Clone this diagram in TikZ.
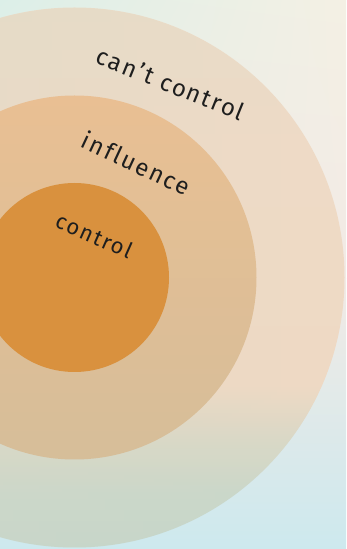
\documentclass[tikz,border=0pt]{standalone}
\usepackage{fontspec}
\newfontfamily\handfont{Fira Sans}[LetterSpace=8, Ligatures=NoCommon]
\usetikzlibrary{shadings,fadings}

\definecolor{bgmint}{HTML}{DCEFE8}
\definecolor{bgcream}{HTML}{F4F0E4}
\definecolor{bgblush}{HTML}{F2EAE5}
\definecolor{bgsky}{HTML}{CDE9EE}
\definecolor{outertop}{HTML}{EADCC7}
\definecolor{outerhigh}{HTML}{EFDBC6}
\definecolor{outermid}{HTML}{EFD9C4}
\definecolor{outergrey}{HTML}{DAD8C6}
\definecolor{outerlow}{HTML}{CAD7C9}
\definecolor{outerbot}{HTML}{C5D6C9}
\definecolor{outerhaze}{HTML}{D6DACB}
\definecolor{midtop}{HTML}{E9BF93}
\definecolor{midmid}{HTML}{E5BD93}
\definecolor{midbot}{HTML}{D6BE99}
\definecolor{core}{HTML}{D9913E}
\definecolor{ink}{HTML}{1E1E1E}

% colour stops of the outer zone, bottom (25bp) to top (75bp)
\pgfdeclareverticalshading{outerzone}{100bp}{color(0bp)=(outerbot);
  color(25bp)=(outerbot); color(30bp)=(outerlow); color(35bp)=(outergrey);
  color(40bp)=(outermid); color(62bp)=(outerhigh); color(75bp)=(outertop);
  color(100bp)=(outertop)}

\tikzset{
  ringlabel/.style={font=\handfont\fontsize{24}{24}\selectfont, text=ink,
    anchor=base, inner sep=0pt}
}

\begin{document}
\begin{tikzpicture}[x=1pt,y=1pt]
  \def\cx{74.5}
  \def\cy{271.5}
  \useasboundingbox (0,0) rectangle (346,549);
  \clip (0,0) rectangle (346,549);
  % paper background, upper and lower half
  \shade[upper left=bgmint, upper right=bgcream,
    lower left=bgblush, lower right=bgblush] (0,270) rectangle (346,549);
  \shade[top color=bgblush, bottom color=bgsky] (0,0) rectangle (346,270.5);
  % the three zones
  \shade[shading=outerzone] (\cx,\cy) circle (270pt);
  \fill[outerhaze, fill opacity=0.35, path fading=east] (\cx,\cy) circle (270pt);
  \shade[top color=midtop, middle color=midmid, bottom color=midbot]
    (\cx,\cy) circle (182pt);
  \fill[core] (\cx,\cy) circle (94.5pt);
  % labels
  \node[ringlabel, rotate=-22] (cantctrl) at (167.5,457) {can’t control};
  \node[ringlabel, rotate=-25] (infl) at (132.5,377.5) {influence};
  \node[ringlabel, rotate=-24, font=\handfont\fontsize{22}{22}\selectfont]
    (ctrl) at (91,306) {control};
\end{tikzpicture}
\end{document}
